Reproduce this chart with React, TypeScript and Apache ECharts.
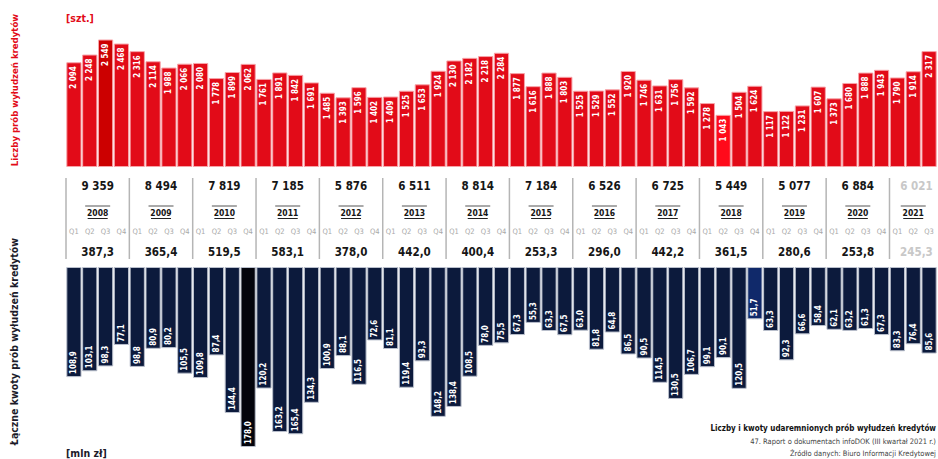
import React, { useEffect, useRef } from "react";
import * as echarts from "echarts";

const years = ["2008", "2009", "2010", "2011", "2012", "2013", "2014", "2015", "2016", "2017", "2018", "2019", "2020", "2021"];
const quarterNames = ["Q1", "Q2", "Q3", "Q4"];
const quartersPerYear = [4, 4, 4, 4, 4, 4, 4, 4, 4, 4, 4, 4, 4, 3];
const partialYears = ["2021"];

// Liczby prób wyłudzeń kredytów [szt.]
const attemptCounts = [
  2094, 2248, 2549, 2468,
  2316, 2114, 1988, 2066,
  2080, 1778, 1899, 2062,
  1761, 1891, 1842, 1691,
  1485, 1393, 1596, 1402,
  1409, 1525, 1653, 1924,
  2130, 2182, 2218, 2284,
  1877, 1616, 1888, 1803,
  1525, 1529, 1552, 1920,
  1746, 1631, 1756, 1592,
  1278, 1043, 1504, 1624,
  1117, 1122, 1231, 1607,
  1373, 1680, 1888, 1943,
  1790, 1914, 2317,
];

// Łączne kwoty prób wyłudzeń kredytów [mln zł]
const attemptAmounts = [
  108.9, 103.1, 98.3, 77.1,
  98.8, 80.9, 80.2, 105.5,
  109.8, 87.4, 144.4, 178.0,
  120.2, 163.2, 165.4, 134.3,
  100.9, 88.1, 116.5, 72.6,
  81.1, 119.4, 93.3, 148.2,
  138.4, 108.5, 78.0, 75.5,
  67.3, 55.3, 63.3, 67.5,
  63.0, 81.8, 64.8, 86.5,
  90.5, 114.5, 130.5, 106.7,
  99.1, 90.1, 120.5, 51.7,
  63.3, 92.3, 66.6, 58.4,
  62.1, 63.2, 61.3, 67.3,
  83.3, 76.4, 85.6,
];

const yearCountTotals = [9359, 8494, 7819, 7185, 5876, 6511, 8814, 7184, 6526, 6725, 5449, 5077, 6884, 6021];
const yearAmountTotals = [387.3, 365.4, 519.5, 583.1, 378.0, 442.0, 400.4, 253.3, 296.0, 442.2, 361.5, 280.6, 253.8, 245.3];

const FONT = "'Liberation Sans Narrow', 'DejaVu Sans Condensed', Roboto, sans-serif";
const RED = "#e20b18";
const NAVY = "#0c1a3c";

const fmtCount = (v: number) => String(Math.round(v)).replace(/\B(?=(\d{3})+(?!\d))/g, " ");
const fmtAmount = (v: number) => v.toFixed(1).replace(".", ",");

export default function App() {
  const ref = useRef<HTMLDivElement>(null);

  useEffect(() => {
    if (!ref.current) return;
    const chart = echarts.init(ref.current, undefined, { renderer: "svg" });

    const categories: string[] = [];
    const yearStarts: number[] = [];
    years.forEach((y, yi) => {
      yearStarts.push(categories.length);
      for (let q = 0; q < quartersPerYear[yi]; q++) categories.push(`${y} ${quarterNames[q]}`);
    });

    const cMax = Math.max(...attemptCounts);
    const cMin = Math.min(...attemptCounts);
    const aMax = Math.max(...attemptAmounts);
    const aMin = Math.min(...attemptAmounts);

    const countData = attemptCounts.map((v) => ({
      value: v,
      itemStyle: v === cMax ? { color: "#cc0000" } : v === cMin ? { color: "#ff0a1a" } : undefined,
    }));
    const amountData = attemptAmounts.map((v) => ({
      value: v,
      itemStyle: v === aMax ? { color: "#03040c" } : v === aMin ? { color: "#10296a" } : undefined,
    }));

    const L = 66;
    const R = 1;
    const lastIndex = categories.length - 1;

    const option: any = {
      animation: false,
      textStyle: { fontFamily: FONT },
      grid: [
        { left: L, right: R, top: 39.5, height: 127.5 },
        { left: L, right: R, top: 267, height: 180 },
        { left: L, right: R, top: 170, height: 100 },
      ],
      xAxis: [
        { type: "category", gridIndex: 0, data: categories, show: false },
        { type: "category", gridIndex: 1, data: categories, show: false },
        { type: "value", gridIndex: 2, min: -0.5, max: lastIndex + 0.5, show: false },
      ],
      yAxis: [
        { type: "value", gridIndex: 0, min: 0, max: cMax, show: false },
        { type: "value", gridIndex: 1, min: 0, max: aMax, inverse: true, show: false },
        { type: "value", gridIndex: 2, min: 0, max: 100, inverse: true, show: false },
      ],
      series: [
        {
          type: "bar",
          xAxisIndex: 0,
          yAxisIndex: 0,
          data: countData,
          barWidth: "96%",
          itemStyle: { color: RED, borderColor: "#f7a3a8", borderWidth: 1 },
          label: {
            show: true,
            position: "insideTop",
            distance: 4,
            rotate: 90,
            align: "right",
            verticalAlign: "middle",
            color: "#fff",
            fontSize: 8,
            fontWeight: "bold",
            fontFamily: FONT,
            formatter: (p: any) => fmtCount(p.value),
          },
        },
        {
          type: "bar",
          xAxisIndex: 1,
          yAxisIndex: 1,
          data: amountData,
          barWidth: "96%",
          itemStyle: { color: NAVY, borderColor: "#b9bfcc", borderWidth: 1 },
          label: {
            show: true,
            position: "insideBottom",
            distance: 3,
            rotate: 90,
            align: "left",
            verticalAlign: "middle",
            color: "#fff",
            fontSize: 8,
            fontWeight: "bold",
            fontFamily: FONT,
            formatter: (p: any) => fmtAmount(p.value),
          },
        },
        {
          type: "custom",
          xAxisIndex: 2,
          yAxisIndex: 2,
          silent: true,
          data: years.map((_, i) => [yearStarts[i], 0]),
          renderItem: (params: any, api: any) => {
            const yi = params.dataIndex;
            const start = yearStarts[yi];
            const n = quartersPerYear[yi];
            const partial = partialYears.includes(years[yi]);
            const totalX = api.coord([start + (partial ? 1.2 : 1.5), 0])[0];
            const yearX = api.coord([start + (n - 1) / 2, 0])[0];
            const yPx = (v: number) => api.coord([0, v])[1];
            const sepX = api.coord([start - 0.5, 0])[0];
            const children: any[] = [];
            children.push({
              type: "line",
              shape: { x1: sepX, y1: yPx(8), x2: sepX, y2: yPx(89) },
              style: { stroke: "#b5b5b5", lineWidth: 1.5 },
            });
            const totalColor = partial ? "#c8c8c8" : "#161616";
            children.push({
              type: "text",
              style: {
                x: totalX, y: yPx(16), text: fmtCount(yearCountTotals[yi]),
                align: "center", verticalAlign: "middle",
                fill: totalColor, font: `bold 11.5px ${FONT}`,
              },
            });
            children.push({
              type: "text",
              style: {
                x: yearX, y: yPx(42.5), text: years[yi],
                align: "center", verticalAlign: "middle",
                fill: "#161616", font: `bold 8.5px ${FONT}`,
              },
            });
            children.push({
              type: "line",
              shape: { x1: yearX - 12.5, y1: yPx(36), x2: yearX + 12.5, y2: yPx(36) },
              style: { stroke: "#555", lineWidth: 1 },
            });
            children.push({
              type: "line",
              shape: { x1: yearX - 10, y1: yPx(48.5), x2: yearX + 10, y2: yPx(48.5) },
              style: { stroke: "#222", lineWidth: 1 },
            });
            for (let q = 0; q < n; q++) {
              const qx = api.coord([start + q, 0])[0];
              children.push({
                type: "text",
                style: {
                  x: qx, y: yPx(61), text: quarterNames[q],
                  align: "center", verticalAlign: "middle",
                  fill: "#a8a8a8", font: `7.5px ${FONT}`,
                },
              });
            }
            children.push({
              type: "text",
              style: {
                x: totalX, y: yPx(82), text: fmtAmount(yearAmountTotals[yi]),
                align: "center", verticalAlign: "middle",
                fill: totalColor, font: `bold 11.5px ${FONT}`,
              },
            });
            return { type: "group", children };
          },
        },
      ],
      graphic: [
        {
          type: "text", x: 14, y: 90, rotation: Math.PI / 2,
          style: { text: "Liczby prób wyłudzeń kredytów", align: "center", verticalAlign: "middle", fill: RED, font: `bold 9.5px ${FONT}` },
        },
        {
          type: "text", x: 14, y: 238, rotation: Math.PI / 2,
          style: { text: "Łączne kwoty prób wyłudzeń kredytów", align: "right", verticalAlign: "middle", fill: "#1b1b2a", font: `bold 10.5px ${FONT}` },
        },
        {
          type: "text", x: 66, y: 18,
          style: { text: "[szt.]", align: "left", verticalAlign: "middle", fill: RED, font: `bold 10.5px ${FONT}` },
        },
        {
          type: "text", x: 66, y: 453,
          style: { text: "[mln zł]", align: "left", verticalAlign: "middle", fill: "#1b1b2a", font: `bold 10.5px ${FONT}` },
        },
        {
          type: "text", x: 936, y: 428,
          style: { text: "Liczby i kwoty udaremnionych prób wyłudzeń kredytów", align: "right", verticalAlign: "middle", fill: "#111", font: `bold 8px ${FONT}` },
        },
        {
          type: "text", x: 936, y: 441,
          style: { text: "47. Raport o dokumentach infoDOK (III kwartał 2021 r.)", align: "right", verticalAlign: "middle", fill: "#444", font: `7.5px ${FONT}` },
        },
        {
          type: "text", x: 936, y: 453,
          style: { text: "Źródło danych: Biuro Informacji Kredytowej", align: "right", verticalAlign: "middle", fill: "#444", font: `7.5px ${FONT}` },
        },
      ],
    };

    chart.setOption(option);
    return () => chart.dispose();
  }, []);

  return <div ref={ref} style={{ position: "absolute", left: 0, top: 0, width: 938, height: 459, background: "#fff" }} />;
}
